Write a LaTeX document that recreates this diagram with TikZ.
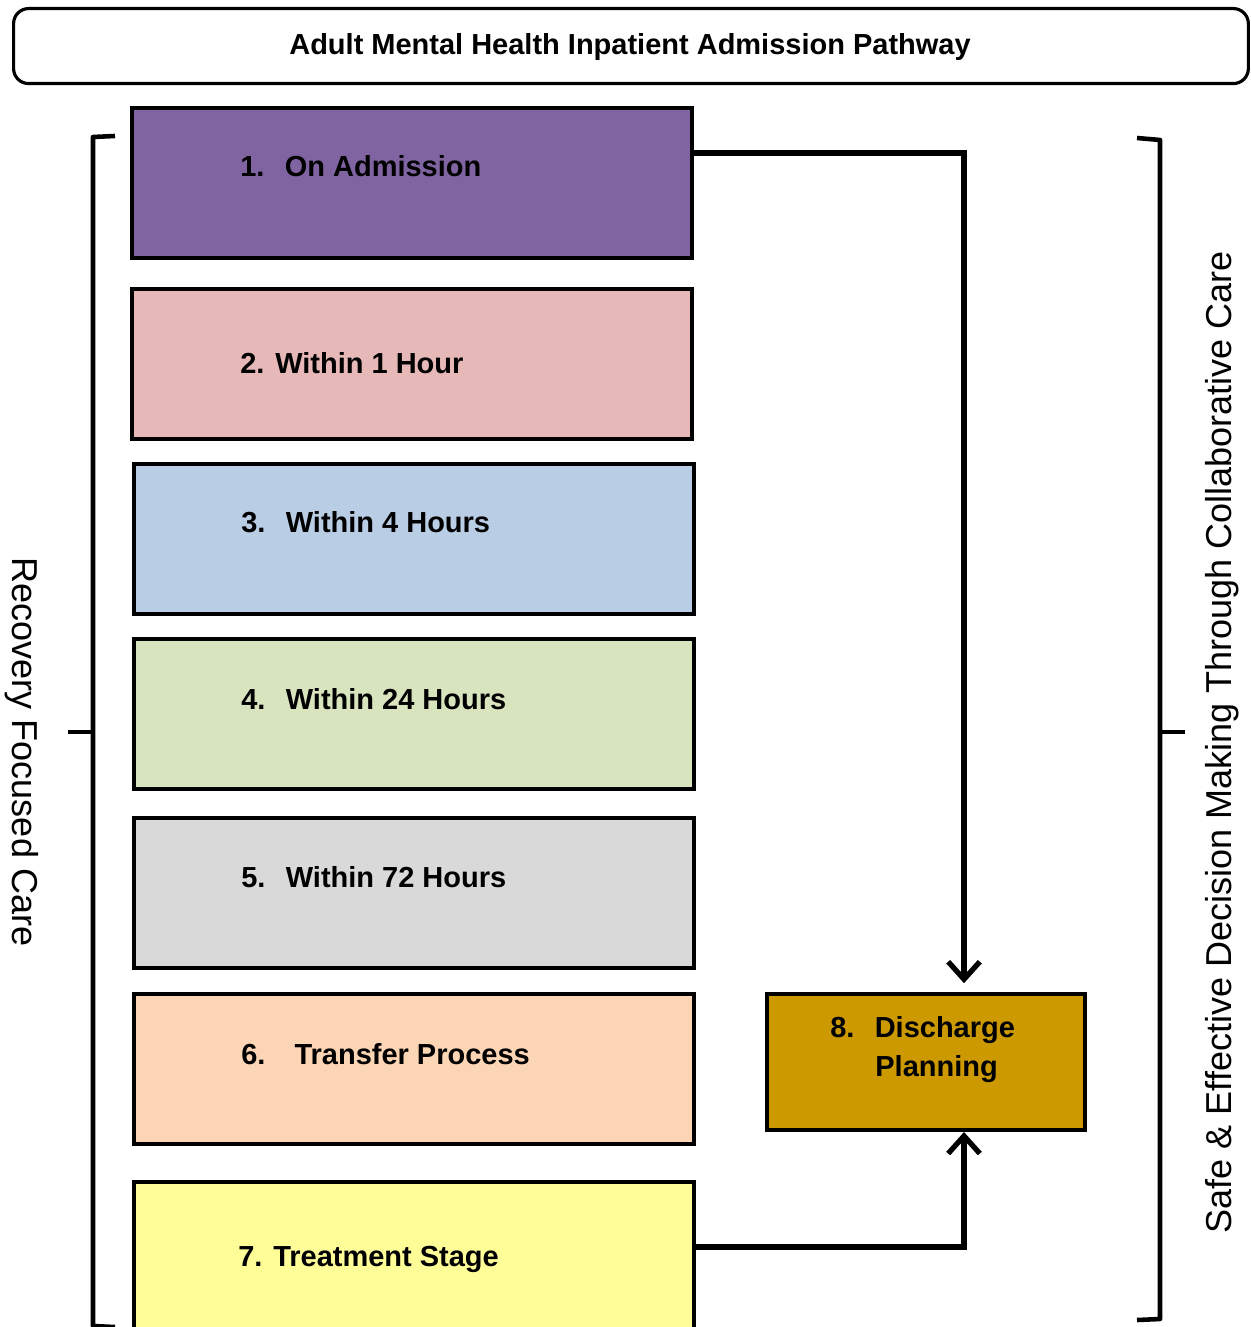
\documentclass[tikz,border=0pt]{standalone}
\usepackage{fontspec}
\setmainfont{Liberation Sans}
\usetikzlibrary{arrows.meta,calc}
\definecolor{cpurple}{HTML}{8064A2}
\definecolor{cpink}{HTML}{E6B9B8}
\definecolor{cblue}{HTML}{B9CDE5}
\definecolor{cgreen}{HTML}{D7E4BD}
\definecolor{cgray}{HTML}{D9D9D9}
\definecolor{cpeach}{HTML}{FCD5B5}
\definecolor{cyellow}{HTML}{FFFD98}
\definecolor{cgold}{HTML}{CC9900}
\begin{document}
\begin{tikzpicture}[x={(0.02cm,0)},y={(0,-0.02cm)},
  stagebox/.style={draw=black,line width=2.3pt,minimum width=11.2cm,minimum height=3cm,inner sep=0pt,anchor=north west},
  lbl/.style={inner sep=0pt,anchor=base west,font=\fontsize{16.5}{19}\selectfont\bfseries},
  side/.style={inner sep=0pt,font=\fontsize{20.5}{24}\selectfont},
  brk/.style={line width=2.6pt,line join=round},
  flow/.style={line width=3pt,-{Straight Barb[length=10pt,width=18pt,line width=3pt]}}
]
\useasboundingbox (0,0) rectangle (1250,1327);
% title
\node[draw=black,line width=1.8pt,rounded corners=0.3cm,minimum width=24.7cm,minimum height=1.5cm,inner sep=0pt,anchor=north west] (title) at (12,7) {};
\node[inner sep=0pt,anchor=base,font=\fontsize{16.5}{19}\selectfont\bfseries] (titletext) at (630,55) {Adult Mental Health Inpatient Admission Pathway};
% stage boxes
\node[stagebox,fill=cpurple] (b1) at (130,106) {};
\node[stagebox,fill=cpink] (b2) at (130,287) {};
\node[stagebox,fill=cblue] (b3) at (132,462) {};
\node[stagebox,fill=cgreen] (b4) at (132,637) {};
\node[stagebox,fill=cgray] (b5) at (132,816) {};
\node[stagebox,fill=cpeach] (b6) at (132,992) {};
\node[stagebox,fill=cyellow,minimum height=3.3cm] (b7) at (132,1180) {};
\node[draw=black,line width=2.3pt,fill=cgold,minimum width=6.36cm,minimum height=2.72cm,inner sep=0pt,anchor=north west] (b8) at (765,992) {};
% labels
\node[lbl] (t1) at (240,177) {1.\hspace{0.7em}On Admission};
\node[lbl] (t2) at (240,374) {2. Within 1 Hour};
\node[lbl] (t3) at (241,532) {3.\hspace{0.7em}Within 4 Hours};
\node[lbl] (t4) at (241,709) {4.\hspace{0.7em}Within 24 Hours};
\node[lbl] (t5) at (241,887) {5.\hspace{0.7em}Within 72 Hours};
\node[lbl] (t6) at (241,1064) {6.\hspace{1em}Transfer Process};
\node[lbl] (t7) at (238,1266) {7. Treatment Stage};
\node[lbl] (t8a) at (830,1037) {8.\hspace{0.7em}Discharge};
\node[lbl] (t8b) at (875,1076) {Planning};
% side texts
\node[side,rotate=-90] (lefttext) at (22,752) {Recovery Focused Care};
\node[side,rotate=90] (righttext) at (1222,742) {Safe \& Effective Decision Making Through Collaborative Care};
% brackets
\coordinate (lbtop) at (115,136);
\coordinate (lbbot) at (115,1327);
\coordinate (lbmid) at (68,732);
\draw[brk] (lbtop) -- (93,137) -- (93,1326) -- (lbbot);
\draw[brk] (lbmid) -- (93,732);
\coordinate (rbtop) at (1137,138);
\coordinate (rbbot) at (1137,1320);
\coordinate (rbmid) at (1185,732);
\draw[brk] (rbtop) -- (1160,140) -- (1160,1319) -- (rbbot);
\draw[brk] (rbmid) -- (1160,732);
% arrows
\draw[flow,shorten >=5pt] ($(b1.north east)+(0,47)$) -| ($(b8.north)+(38,0)$);
\draw[flow] ($(b7.north east)+(0,67)$) -| ($(b8.south)+(38,0)$);
\end{tikzpicture}
\end{document}
